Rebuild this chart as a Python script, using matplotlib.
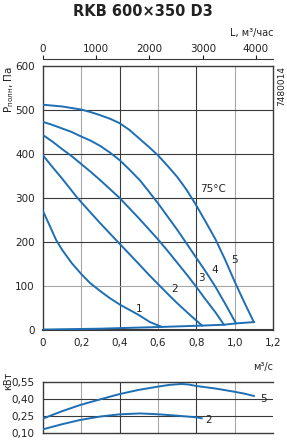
import matplotlib
matplotlib.use("Agg")
import matplotlib.pyplot as plt

# ---- data ----
c1_x = [0, 0.034, 0.068, 0.1, 0.15, 0.2, 0.245, 0.3, 0.35, 0.4, 0.45, 0.5, 0.558, 0.62]
c1_y = [270, 238, 205, 182, 152, 127, 107, 88, 72, 58, 46, 34, 18, 7]
c2_x = [0, 0.05, 0.1, 0.18, 0.25, 0.3, 0.393, 0.45, 0.5, 0.558, 0.61, 0.66, 0.7, 0.77, 0.83]
c2_y = [397, 370, 344, 300, 266, 242, 199, 173, 150, 123, 100, 78, 61, 33, 10]
c3_x = [0, 0.05, 0.1, 0.15, 0.2, 0.25, 0.3, 0.35, 0.4, 0.45, 0.5, 0.55, 0.6, 0.65, 0.7,
        0.75, 0.8, 0.84, 0.9, 0.944]
c3_y = [443, 428, 411, 395, 377, 359, 340, 320, 300, 277, 254, 230, 206, 180, 153,
        126, 98, 74, 40, 12]
c4_x = [0, 0.05, 0.1, 0.15, 0.193, 0.25, 0.3, 0.35, 0.4, 0.45, 0.506, 0.55, 0.6, 0.65,
        0.7, 0.75, 0.8, 0.85, 0.9, 0.95, 1.007]
c4_y = [473, 466, 458, 450, 441, 430, 418, 403, 386, 365, 340, 316, 288, 258,
        228, 196, 164, 132, 98, 60, 15]
c5_x = [0, 0.1, 0.2, 0.25, 0.3, 0.35, 0.4, 0.45, 0.5, 0.55, 0.6, 0.65, 0.7, 0.75, 0.8,
        0.85, 0.9, 0.95, 1.0, 1.05, 1.1]
c5_y = [512, 508, 501, 495, 488, 480, 470, 455, 436, 417, 397, 373, 348, 318, 283,
        245, 206, 160, 110, 63, 18]
base_x = [0, 0.3, 0.62, 0.83, 0.944, 1.007, 1.1]
base_y = [1, 3, 7, 10, 12, 15, 18]

curve_labels = ["1", "2", "3", "4", "5"]
label_pos = [(0.499, 48), (0.689, 93), (0.828, 118), (0.897, 136), (0.997, 159)]

p5_x = [0, 0.1, 0.193, 0.3, 0.4, 0.5, 0.598, 0.66, 0.723, 0.76, 0.8, 0.9, 0.996, 1.05, 1.1]
p5_y = [0.225, 0.29, 0.344, 0.395, 0.441, 0.478, 0.506, 0.522, 0.53, 0.525, 0.512, 0.49,
        0.462, 0.445, 0.424]
p2_x = [0, 0.1, 0.193, 0.3, 0.4, 0.506, 0.598, 0.7, 0.8, 0.828]
p2_y = [0.13, 0.175, 0.212, 0.243, 0.262, 0.27, 0.263, 0.25, 0.236, 0.227]

x_ticks = [0, 0.2, 0.4, 0.6, 0.8, 1.0, 1.2]
x_ticklabels = ["0", "0,2", "0,4", "0,6", "0,8", "1,0", "1,2"]
y_ticks = [0, 100, 200, 300, 400, 500, 600]
top_ticks = [0, 1000, 2000, 3000, 4000]
p_ticks = [0.10, 0.25, 0.40, 0.55]
p_ticklabels = ["0,10", "0,25", "0,40", "0,55"]

BLUE = "#1E6EB4"
DARK = "#3a3a3a"
GRAY = "#a8a8a8"
W, H = 287, 441

fig = plt.figure(figsize=(W / 100, H / 100), dpi=100)
plt.rcParams['font.family'] = ['DejaVu Sans']

def frac(l, t, r, b):
    return [l / W, 1 - b / H, (r - l) / W, (b - t) / H]

ax = fig.add_axes(frac(43, 66, 273, 330))
ax.set_xlim(0, 1.2)
ax.set_ylim(0, 600)
for i, xv in enumerate([0.2, 0.4, 0.6, 0.8, 1.0]):
    ax.axvline(xv, color=GRAY if i % 2 == 0 else DARK, lw=0.8, zorder=1)
for yv in [100, 200, 300, 400, 500]:
    ax.axhline(yv, color=GRAY if yv == 100 else DARK, lw=0.8, zorder=1)

for xs, ys in [(c1_x, c1_y), (c2_x, c2_y), (c3_x, c3_y), (c4_x, c4_y), (c5_x, c5_y), (base_x, base_y)]:
    ax.plot(xs, ys, color=BLUE, lw=1.4, zorder=3, solid_joinstyle='round')
for lab, (lx, ly) in zip(curve_labels, label_pos):
    ax.text(lx, ly, lab, fontsize=7.5, ha='center', va='center', color='#222222', zorder=4)
ax.text(0.887, 320, "75°C", fontsize=7.5, ha='center', va='center', color='#222222')

ax.set_xticks(x_ticks)
ax.set_xticklabels(x_ticklabels)
ax.set_yticks(y_ticks)
ax.tick_params(length=0, labelsize=7.5, pad=6, colors='#222222')
for s in ax.spines.values():
    s.set_color(DARK)
    s.set_linewidth(1.0)
ax.spines['bottom'].set_linewidth(1.5)

top = ax.twiny()
top.set_xlim(0, 1.2 * 3600)
top.set_xticks(top_ticks)
top.spines['top'].set_position(('outward', 5))
for k in ['left', 'right', 'bottom']:
    top.spines[k].set_visible(False)
top.spines['top'].set_color(DARK)
top.spines['top'].set_linewidth(0.8)
top.tick_params(axis='x', length=3, width=0.8, labelsize=7.5, pad=1, colors='#222222')

fig.text(143 / W, 1 - 11 / H, "RKB 600×350 D3", fontsize=10.5, fontweight='bold',
         ha='center', va='center', color='#222222')
fig.text(273 / W, 1 - 33 / H, "L, м³/час", fontsize=7, ha='right', va='center', color='#222222')
fig.text(9 / W, 1 - 89 / H, r"$\mathregular{P_{полн}}$, Па", fontsize=7.5, rotation=90,
         ha='center', va='center', color='#222222')
fig.text(282 / W, 1 - 86 / H, "7480014", fontsize=6.5, rotation=90, ha='center', va='center',
         color='#222222')
fig.text(263 / W, 1 - 367 / H, "м³/с", fontsize=7, ha='center', va='center', color='#222222')
fig.text(8 / W, 1 - 381 / H, "кВт", fontsize=7, rotation=90, ha='center', va='center',
         color='#222222')

# power chart
axp = fig.add_axes(frac(43, 381.7, 273, 432.7))
axp.set_xlim(0, 1.2)
axp.set_ylim(0.10, 0.55)
for i, xv in enumerate([0.2, 0.4, 0.6, 0.8, 1.0]):
    axp.axvline(xv, color=GRAY if i % 2 == 0 else DARK, lw=0.8, zorder=1)
for yv in [0.25, 0.40]:
    axp.axhline(yv, color=DARK, lw=0.8, zorder=1)
axp.plot(p5_x, p5_y, color=BLUE, lw=1.4, zorder=3)
axp.plot(p2_x, p2_y, color=BLUE, lw=1.4, zorder=3)
axp.text(1.15, 0.397, "5", fontsize=7.5, ha='center', va='center', color='#222222')
axp.text(0.866, 0.21, "2", fontsize=7.5, ha='center', va='center', color='#222222')
axp.set_xticks([])
axp.set_yticks(p_ticks)
axp.set_yticklabels(p_ticklabels)
axp.tick_params(length=0, labelsize=7.5, pad=6, colors='#222222')
axp.spines['right'].set_visible(False)
for k in ['left', 'top', 'bottom']:
    axp.spines[k].set_color(DARK)
    axp.spines[k].set_linewidth(1.0)

fig.savefig("out.png", dpi=100)
